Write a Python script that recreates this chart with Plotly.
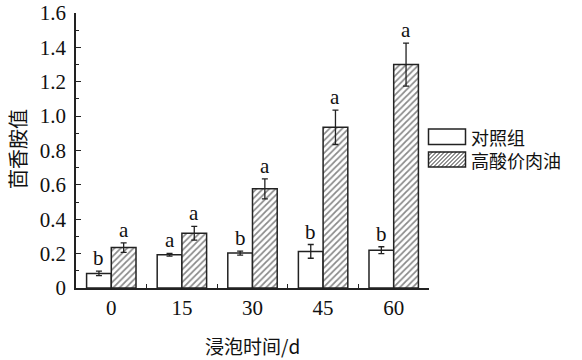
import plotly.graph_objects as go

categories = ["0", "15", "30", "45", "60"]
control_vals = [0.085, 0.193, 0.203, 0.213, 0.220]
control_err = [0.013, 0.008, 0.012, 0.040, 0.020]
control_sig = ["b", "a", "b", "b", "b"]
oil_vals = [0.235, 0.318, 0.577, 0.935, 1.300]
oil_err = [0.028, 0.040, 0.058, 0.100, 0.125]
oil_sig = ["a", "a", "a", "a", "a"]
series_names = ["对照组", "高酸价肉油"]
x_title = "浸泡时间/d"
y_title = "茴香胺值"
y_ticks = [0, 0.2, 0.4, 0.6, 0.8, 1.0, 1.2, 1.4, 1.6]
y_ticktext = ["0", "0.2", "0.4", "0.6", "0.8", "1.0", "1.2", "1.4", "1.6"]

SERIF = "Liberation Serif, Times New Roman, serif"
CJK = "Noto Sans CJK SC, sans-serif"
BARGAP = 0.3
LINE = "#222222"

W, H = 582, 360
ML, MR, MT, MB = 76, 153, 13, 72
PW, PH = W - ML - MR, H - MT - MB

fig = go.Figure()
fig.add_trace(go.Bar(
    x=categories, y=control_vals, name=series_names[0],
    marker=dict(color="white", line=dict(color=LINE, width=1.5)),
    error_y=dict(type="data", array=control_err, color=LINE, thickness=1.3, width=3),
    showlegend=False,
))
fig.add_trace(go.Bar(
    x=categories, y=oil_vals, name=series_names[1],
    marker=dict(color="white", line=dict(color=LINE, width=1.5),
                pattern=dict(shape="/", size=4.5, solidity=0.38, fgcolor="#111", bgcolor="white")),
    error_y=dict(type="data", array=oil_err, color=LINE, thickness=1.3, width=3),
    showlegend=False,
))

off = (1 - BARGAP) / 4
anns = []
for i in range(len(categories)):
    anns.append(dict(x=i - off, y=control_vals[i] + control_err[i], xref="x", yref="y",
                     text=control_sig[i], showarrow=False, yanchor="bottom", yshift=-1,
                     font=dict(family=SERIF, size=21, color="#111")))
    anns.append(dict(x=i + off, y=oil_vals[i] + oil_err[i], xref="x", yref="y",
                     text=oil_sig[i], showarrow=False, yanchor="bottom", yshift=-1,
                     font=dict(family=SERIF, size=21, color="#111")))


def px2paper(px, py):
    return (px - ML) / PW, (H - MB - py) / PH


# axis titles
tx, ty = px2paper(252, 345)
anns.append(dict(x=tx, y=ty, xref="paper", yref="paper", text=x_title, showarrow=False,
                 xanchor="center", yanchor="middle", font=dict(family=CJK, size=19, color="#111")))
tx, ty = px2paper(17, 149)
anns.append(dict(x=tx, y=ty, xref="paper", yref="paper", text=y_title, showarrow=False, textangle=-90,
                 xanchor="center", yanchor="middle", font=dict(family=CJK, size=20, color="#111")))

# custom legend (swatches + text)
shapes = []
sw_x0, sw_x1 = 428.5, 465.5
rows = [(129, 144.5), (152, 167)]
for k, (y0, y1) in enumerate(rows):
    a0 = px2paper(sw_x0, y1)
    a1 = px2paper(sw_x1, y0)
    if k == 1:
        path = []
        step = 4.0
        hgt = y1 - y0
        c = sw_x0 - hgt
        while c < sw_x1:
            xs, ys = c, y1
            xe, ye = c + hgt, y0
            if xs < sw_x0:
                ys = y1 - (sw_x0 - xs)
                xs = sw_x0
            if xe > sw_x1:
                ye = y0 + (xe - sw_x1)
                xe = sw_x1
            if xe > xs:
                p0 = px2paper(xs, ys)
                p1 = px2paper(xe, ye)
                path.append(f"M{p0[0]:.5f},{p0[1]:.5f}L{p1[0]:.5f},{p1[1]:.5f}")
            c += step
        shapes.append(dict(type="path", xref="paper", yref="paper", path="".join(path),
                           line=dict(color="#111", width=0.9)))
    shapes.append(dict(type="rect", xref="paper", yref="paper", x0=a0[0], y0=a0[1], x1=a1[0], y1=a1[1],
                       line=dict(color=LINE, width=1.5), fillcolor="rgba(0,0,0,0)"))

tx, ty = px2paper(469, (rows[0][0] + rows[1][1]) / 2)
anns.append(dict(x=tx, y=ty, xref="paper", yref="paper", text="<br>".join(series_names), showarrow=False,
                 xanchor="left", yanchor="middle", align="left",
                 font=dict(family=CJK, size=18, color="#111")))

fig.update_layout(
    width=W, height=H, autosize=False,
    margin=dict(l=ML, r=MR, t=MT, b=MB, pad=0),
    paper_bgcolor="white", plot_bgcolor="white",
    barmode="group", bargap=BARGAP, bargroupgap=0,
    annotations=anns, shapes=shapes,
    showlegend=False,
    xaxis=dict(
        type="category", showline=True, linecolor=LINE, linewidth=1.5, automargin=False,
        ticks="inside", tickson="boundaries", ticklen=4, tickcolor=LINE, tickwidth=1.2,
        tickfont=dict(family=SERIF, size=21, color="#111"),
        showgrid=False, zeroline=False,
    ),
    yaxis=dict(
        range=[0, 1.6], showline=True, linecolor=LINE, linewidth=1.5, automargin=False,
        tickvals=y_ticks, ticktext=y_ticktext,
        ticks="inside", ticklen=5, tickcolor=LINE, tickwidth=1.2,
        minor=dict(ticks="inside", ticklen=3, dtick=0.1, tickcolor=LINE, tickwidth=1),
        tickfont=dict(family=SERIF, size=21, color="#111"),
        ticklabelstandoff=4,
        showgrid=False, zeroline=False,
    ),
)

fig.write_html("out.html", config={"displayModeBar": False},
               post_script="document.body.style.margin='0';document.body.style.overflow='hidden';")
